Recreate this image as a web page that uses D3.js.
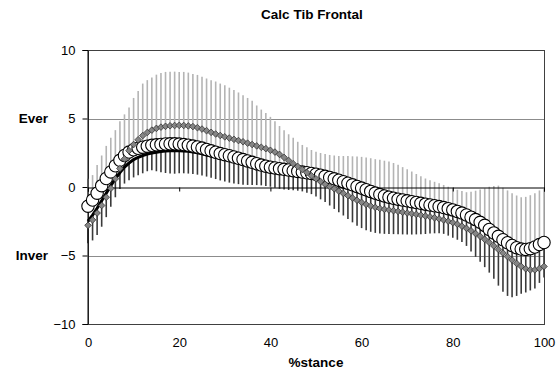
<!DOCTYPE html>
<html>
<head>
<meta charset="utf-8">
<script src="https://cdn.jsdelivr.net/npm/d3@7/dist/d3.min.js"></script>
<style>
  body { margin: 0; background: #fff; }
  svg { display: block; font-family: Arial, "Liberation Sans", sans-serif; }
</style>
</head>
<body>
<svg class="chart"></svg>
<script>
// % stance 0..100
var stance = d3.range(0, 101);

// grey diamonds
var diamondMean = [
  -2.8, -2.4, -1.9, -1.35, -0.75, -0.1, 0.6, 1.35, 2.05, 2.65,
  3.1, 3.45, 3.75, 3.98, 4.15, 4.28, 4.37, 4.43, 4.47, 4.49,
  4.5, 4.49, 4.46, 4.41, 4.33, 4.23, 4.11, 3.99, 3.87, 3.76,
  3.66, 3.57, 3.48, 3.39, 3.3, 3.2, 3.1, 3.0, 2.9, 2.8,
  2.68, 2.55, 2.38, 2.16, 1.93, 1.7, 1.5, 1.28, 1.05, 0.82,
  0.6, 0.4, 0.2, 0.03, -0.13, -0.3, -0.47, -0.63, -0.8, -0.97,
  -1.12, -1.27, -1.39, -1.49, -1.57, -1.63, -1.68, -1.73, -1.78, -1.84,
  -1.9, -1.95, -2.0, -2.06, -2.12, -2.18, -2.25, -2.33, -2.41, -2.5,
  -2.6, -2.72, -2.86, -3.02, -3.2, -3.4, -3.6, -3.82, -4.05, -4.3,
  -4.56, -4.82, -5.08, -5.33, -5.58, -5.8, -5.97, -6.05, -6.05, -5.95,
  -5.8
];

// white circles
var circleMean = [
  -1.4, -0.95, -0.45, 0.1, 0.62, 1.1, 1.55, 1.95, 2.3, 2.55,
  2.72, 2.83, 2.91, 2.98, 3.04, 3.08, 3.11, 3.14, 3.15, 3.15,
  3.13, 3.1, 3.05, 2.99, 2.92, 2.84, 2.74, 2.64, 2.54, 2.44,
  2.36, 2.28, 2.19, 2.1, 2.0, 1.9, 1.8, 1.7, 1.6, 1.52,
  1.45, 1.39, 1.34, 1.29, 1.24, 1.19, 1.14, 1.09, 1.04, 0.99,
  0.93, 0.86, 0.78, 0.7, 0.6, 0.5, 0.39, 0.28, 0.16, 0.04,
  -0.08, -0.2, -0.32, -0.44, -0.55, -0.65, -0.74, -0.82, -0.89, -0.95,
  -1.01, -1.07, -1.13, -1.19, -1.25, -1.31, -1.37, -1.43, -1.5, -1.58,
  -1.67, -1.78, -1.9, -2.04, -2.2, -2.38, -2.58, -2.8, -3.1, -3.35,
  -3.6, -3.85, -4.07, -4.27, -4.43, -4.53, -4.56, -4.5, -4.38, -4.2,
  -4.05
];

// black line
var lineMean = [
  -2.5, -2.05, -1.55, -1.0, -0.45, 0.1, 0.6, 1.05, 1.45, 1.75,
  2.0, 2.17, 2.3, 2.4, 2.48, 2.54, 2.59, 2.62, 2.64, 2.65,
  2.65, 2.63, 2.6, 2.55, 2.49, 2.42, 2.34, 2.26, 2.18, 2.1,
  2.03, 1.96, 1.89, 1.82, 1.76, 1.7, 1.6, 1.52, 1.43, 1.33,
  1.24, 1.16, 1.1, 1.05, 1.0, 0.95, 0.9, 0.84, 0.78, 0.71,
  0.63, 0.55, 0.46, 0.36, 0.25, 0.13, 0.0, -0.1, -0.2, -0.34,
  -0.47, -0.6, -0.72, -0.83, -0.92, -1.0, -1.07, -1.13, -1.19, -1.25,
  -1.3, -1.35, -1.4, -1.45, -1.5, -1.55, -1.61, -1.67, -1.74, -1.82,
  -1.92, -2.04, -2.18, -2.35, -2.54, -2.75, -2.98, -3.22, -3.47, -3.72,
  -3.96, -4.19, -4.4, -4.58, -4.72, -4.8, -4.82, -4.77, -4.65, -4.48,
  -4.3
];

// tops of the light grey bars (circle mean + SD)
var upperBar = [
  0.6, 0.87, 1.6, 2.3, 3.0, 3.6, 4.15, 4.8, 5.3, 5.8,
  6.5, 7.0, 7.55, 7.8, 8.0, 8.2, 8.33, 8.4, 8.42, 8.42,
  8.4, 8.4, 8.35, 8.25, 8.18, 8.05, 7.92, 7.8, 7.7, 7.55,
  7.42, 7.25, 7.08, 6.9, 6.7, 6.5, 6.3, 5.95, 5.65, 5.4,
  5.12, 4.8, 4.45, 4.15, 3.85, 3.6, 3.3, 3.07, 2.9, 2.7,
  2.58, 2.48, 2.4, 2.34, 2.3, 2.27, 2.26, 2.26, 2.24, 2.22,
  2.2, 2.15, 2.1, 2.03, 1.98, 1.92, 1.86, 1.75, 1.62, 1.45,
  1.3, 1.13, 0.95, 0.78, 0.62, 0.5, 0.38, 0.27, 0.15, 0.02,
  -0.1, -0.2, -0.3, -0.38, -0.35, -0.27, -0.18, -0.1, 0.02, 0.08,
  0.1, -0.05, -0.25, -0.45, -0.62, -0.75, -0.72, -0.6, -0.45, -0.25,
  -0.15
];

// bottoms of the dark bars (line mean - SD)
var lowerBar = [
  -4.1, -3.9, -3.5, -2.9, -2.2, -1.45, -0.75, -0.15, 0.25, 0.5,
  0.7, 0.85, 1.0, 1.15, 1.22, 1.15, 1.08, 1.02, 0.98, 0.97,
  1.0, 1.0, 0.98, 0.95, 0.9, 0.84, 0.76, 0.67, 0.58, 0.48,
  0.4, 0.32, 0.26, 0.21, 0.17, 0.15, 0.15, 0.14, 0.12, 0.08,
  0.02, -0.05, -0.13, -0.19, -0.22, -0.24, -0.27, -0.32, -0.42, -0.52,
  -0.7, -0.9, -1.1, -1.35, -1.6, -1.85, -2.08, -2.33, -2.58, -2.82,
  -3.0, -3.15, -3.27, -3.35, -3.4, -3.42, -3.43, -3.44, -3.45, -3.46,
  -3.47, -3.47, -3.46, -3.45, -3.43, -3.4, -3.38, -3.38, -3.42, -3.55,
  -3.7, -3.85, -4.02, -4.3, -4.7, -5.1, -5.45, -5.85, -6.25, -6.7,
  -7.2, -7.65, -7.95, -8.05, -7.95, -7.8, -7.7, -7.55, -7.4, -7.0,
  -6.6
];

var xTicks = [0, 20, 40, 60, 80, 100];
var yTicks = [-10, -5, 0, 5, 10];
var yNames = [{ v: 5, name: "Ever" }, { v: -5, name: "Inver" }];

var width = 557, height = 373;

var svg = d3.select(".chart")
  .attr("width", width)
  .attr("height", height);

var x = d3.scaleLinear().domain([0, 100]).range([88, 544]);
var y = d3.scaleLinear().domain([-10, 10]).range([324, 50]);

// title
svg.append("text")
  .attr("x", 312).attr("y", 19)
  .attr("text-anchor", "middle")
  .attr("font-size", 13.5).attr("font-weight", "bold")
  .text("Calc Tib Frontal");

// gridlines at +-5
svg.append("g")
  .selectAll("line")
  .data([5, -5])
  .enter()
  .append("line")
    .attr("x1", x(0)).attr("x2", x(100))
    .attr("y1", function(d) { return Math.round(y(d)) + 0.5; })
    .attr("y2", function(d) { return Math.round(y(d)) + 0.5; })
    .attr("stroke", "#8c8c8c");

// plot frame
svg.append("rect")
  .attr("x", x(0) + 0.5).attr("y", y(10) + 0.5)
  .attr("width", x(100) - x(0)).attr("height", y(-10) - y(10))
  .attr("fill", "none")
  .attr("stroke", "#404040");

var data = stance.map(function(p, i) {
  return { p: p, d: diamondMean[i], c: circleMean[i], l: lineMean[i], up: upperBar[i], lo: lowerBar[i] };
});

// light grey bars, up from the circles
svg.append("g")
  .selectAll("line")
  .data(data)
  .enter()
  .append("line")
    .attr("x1", function(d) { return x(d.p); })
    .attr("x2", function(d) { return x(d.p); })
    .attr("y1", function(d) { return y(d.c); })
    .attr("y2", function(d) { return y(d.up); })
    .attr("stroke", "#b4b4b4")
    .attr("stroke-width", 1.6);

// dark bars, down from the black line
svg.append("g")
  .selectAll("line")
  .data(data)
  .enter()
  .append("line")
    .attr("x1", function(d) { return x(d.p); })
    .attr("x2", function(d) { return x(d.p); })
    .attr("y1", function(d) { return y(d.l); })
    .attr("y2", function(d) { return y(d.lo); })
    .attr("stroke", "#3a3a3a")
    .attr("stroke-width", 1.6);

// x axis on the zero line
svg.append("g")
  .attr("transform", "translate(0," + (Math.round(y(0)) + 0.5) + ")")
  .call(d3.axisBottom(x).tickValues(xTicks).tickSize(4).tickFormat(""))
  .call(function(g) { g.selectAll("path, line").attr("stroke", "#000"); });

// x labels under the plot
svg.append("g")
  .attr("transform", "translate(0," + y(-10) + ")")
  .call(d3.axisBottom(x).tickValues(xTicks).tickSize(0).tickPadding(14))
  .call(function(g) {
    g.select(".domain").remove();
    g.selectAll("text").attr("font-size", 13).attr("font-family", null).attr("fill", "#000");
  });

svg.append("text")
  .attr("x", 316).attr("y", 367)
  .attr("text-anchor", "middle")
  .attr("font-size", 13.5).attr("font-weight", "bold")
  .text("%stance");

// y axis
svg.append("g")
  .attr("transform", "translate(" + (x(0) - 0.5) + ",0)")
  .call(d3.axisLeft(y).tickValues(yTicks).tickSize(5).tickPadding(7))
  .call(function(g) {
    g.selectAll("path, line").attr("stroke", "#000");
    g.selectAll("text").attr("font-size", 13).attr("font-family", null).attr("fill", "#000");
  });

svg.append("g")
  .selectAll("text")
  .data(yNames)
  .enter()
  .append("text")
    .attr("x", 48)
    .attr("y", function(d) { return y(d.v); })
    .attr("dy", "0.35em")
    .attr("text-anchor", "end")
    .attr("font-size", 13.5).attr("font-weight", "bold")
    .text(function(d) { return d.name; });

// black line
svg.append("path")
  .datum(data)
  .attr("fill", "none")
  .attr("stroke", "#000")
  .attr("stroke-width", 3)
  .attr("d", d3.line()
    .x(function(d) { return x(d.p); })
    .y(function(d) { return y(d.l); }));

// white circles
svg.append("g")
  .selectAll("circle")
  .data(data)
  .enter()
  .append("circle")
    .attr("cx", function(d) { return x(d.p); })
    .attr("cy", function(d) { return y(d.c); })
    .attr("r", 6.2)
    .attr("fill", "#fff")
    .attr("stroke", "#000")
    .attr("stroke-width", 1.1);

// grey diamonds
var diamond = d3.symbol().type(d3.symbolSquare).size(22);
svg.append("g")
  .selectAll("path")
  .data(data)
  .enter()
  .append("path")
    .attr("d", diamond)
    .attr("transform", function(d) { return "translate(" + x(d.p) + "," + y(d.d) + ") rotate(45)"; })
    .attr("fill", "#858585")
    .attr("stroke", "#2e2e2e")
    .attr("stroke-width", 0.7);
</script>
</body>
</html>
